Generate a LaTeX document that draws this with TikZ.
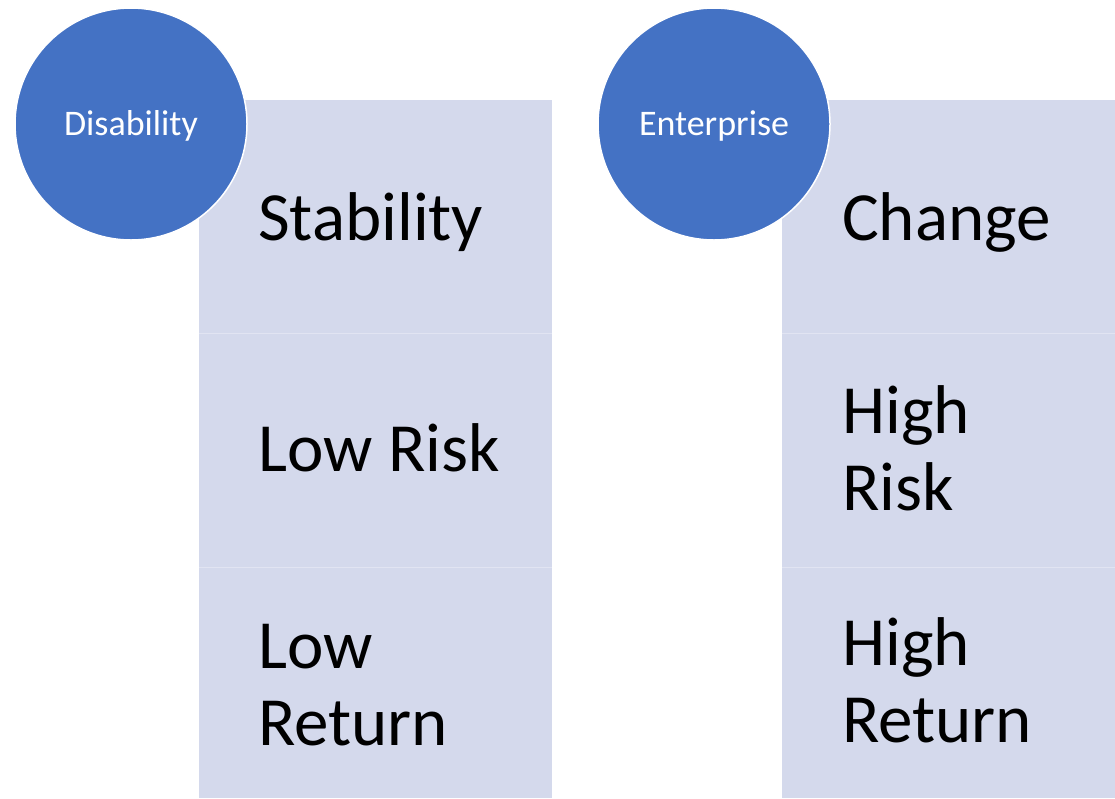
\documentclass[tikz,border=0pt]{standalone}
\usepackage{fontspec}
\setmainfont{Carlito}
\definecolor{circleblue}{HTML}{4472C4}
\definecolor{cellblue}{HTML}{D4D9EC}

\begin{document}
\begin{tikzpicture}[x=1pt,y=-1pt,every node/.style={inner sep=0pt},
  big/.style={font=\fontsize{69}{77}\selectfont,anchor=base west,align=left},
  round/.style={circle,fill=circleblue,draw=white,line width=1.5pt,
    minimum size=232pt,text=white,font=\fontsize{36}{40}\selectfont},]

  \useasboundingbox (0,0) rectangle (1115,798);

  % left column
  \fill[cellblue] (199,100) rectangle (552,798);
  \draw[white!30!cellblue] (199,333) -- (552,333);
  \draw[white!30!cellblue] (199,567) -- (552,567);
  \node[big] (stability) at (258,240) {Stability};
  \node[big] (lowrisk) at (258,471) {Low Risk};
  \node[big] (lowreturn) at (258,745) {Low\\Return};

  % right column
  \fill[cellblue] (782,100) rectangle (1115,798);
  \draw[white!30!cellblue] (782,333) -- (1115,333);
  \draw[white!30!cellblue] (782,567) -- (1115,567);
  \node[big] (change) at (842,240) {Change};
  \node[big] (highrisk) at (842,510) {High\\Risk};
  \node[big] (highreturn) at (842,742) {High\\Return};

  % circles
  \node[round] (disability) at (131,124) {};
  \node[text=white,font=\fontsize{36}{40}\selectfont,anchor=base]
    (disabilitytext) at (131,135) {Disability};
  \node[round] (enterprise) at (714,124) {};
  \node[text=white,font=\fontsize{36}{40}\selectfont,anchor=base]
    (enterprisetext) at (714,135) {Enterprise};

\end{tikzpicture}
\end{document}
